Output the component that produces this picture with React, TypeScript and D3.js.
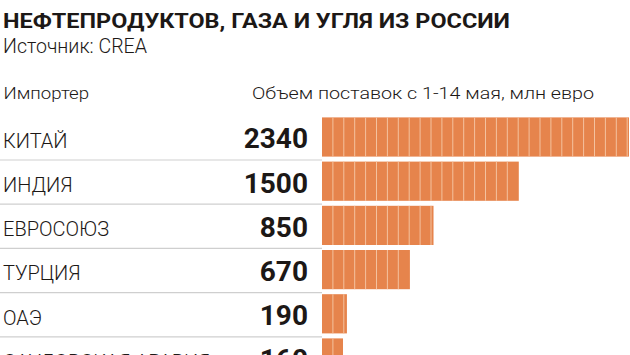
import React from "react";
import * as d3 from "d3";

const countries = ["КИТАЙ", "ИНДИЯ", "ЕВРОСОЮЗ", "ТУРЦИЯ", "ОАЭ", "САУДОВСКАЯ АРАВИЯ"];
const values = [2340, 1500, 850, 670, 190, 160];
const valueLabels = ["2340", "1500", "850", "670", "190", "160"];
const titleText = "НЕФТЕПРОДУКТОВ, ГАЗА И УГЛЯ ИЗ РОССИИ";
const sourceText = "Источник: CREA";
const colHeaderLeft = "Импортер";
const colHeaderRight = "Объем поставок с 1-14 мая, млн евро";

const W = 630;
const H = 355;
const BAR_COLOR = "#E6844C";
const STRIPE_COLOR = "#F4C29F";
const TEXT = "#1c1816";
const FONT = "Roboto, 'Liberation Sans', sans-serif";

export default function App() {
  const x = d3.scaleLinear().domain([0, 2340]).range([322, 629]);
  const y = d3
    .scaleBand<string>()
    .domain(countries)
    .range([115.3, 115.3 + countries.length * 44.2])
    .padding(0);
  const bw = y.bandwidth();
  const stripeStep = 10.9;

  return (
    <svg
      width={W}
      height={H}
      viewBox={`0 0 ${W} ${H}`}
      style={{ position: "fixed", left: 0, top: 0, background: "#fff" }}
    >
      <rect x={0} y={0} width={W} height={H} fill="#fff" />
      <text
        x={3}
        y={27.7}
        fontFamily={FONT}
        fontWeight={700}
        fontSize={21}
        fill={TEXT}
        textLength={507}
        lengthAdjust="spacingAndGlyphs"
      >
        {titleText}
      </text>
      <text
        x={3}
        y={53.3}
        fontFamily={FONT}
        fontWeight={300}
        fontSize={19.5}
        fill={TEXT}
        textLength={144}
        lengthAdjust="spacingAndGlyphs"
      >
        {sourceText}
      </text>
      <text
        x={3.5}
        y={99.3}
        fontFamily={FONT}
        fontWeight={300}
        fontSize={17}
        fill={TEXT}
        textLength={85.5}
        lengthAdjust="spacingAndGlyphs"
      >
        {colHeaderLeft}
      </text>
      <text
        x={252}
        y={99.3}
        fontFamily={FONT}
        fontWeight={300}
        fontSize={17}
        fill={TEXT}
        textLength={342}
        lengthAdjust="spacingAndGlyphs"
      >
        {colHeaderRight}
      </text>

      {countries.map((c, i) => {
        const top = y(c) as number;
        const x0 = x(0);
        const x1 = x(values[i]);
        const barTop = top + 2.1;
        const barH = bw - 5;
        const stripes = d3.range(x0 + stripeStep, x1 - 1, stripeStep);
        return (
          <g key={c}>
            <line
              x1={0}
              x2={x0}
              y1={top + bw + 0.5}
              y2={top + bw + 0.5}
              stroke="#cfcfcf"
              strokeWidth={1.2}
            />
            <text
              x={3}
              y={top + 32.4}
              fontFamily={FONT}
              fontWeight={300}
              fontSize={20}
              fill={TEXT}
            >
              {c}
            </text>
            <text
              x={308}
              y={top + 33}
              textAnchor="end"
              fontFamily={FONT}
              fontWeight={700}
              fontSize={28}
              fill={TEXT}
            >
              {valueLabels[i]}
            </text>
            <rect x={x0} y={barTop} width={x1 - x0} height={barH} fill={BAR_COLOR} />
            {stripes.map((sx, j) => (
              <line
                key={j}
                x1={sx}
                x2={sx}
                y1={barTop}
                y2={barTop + barH}
                stroke={STRIPE_COLOR}
                strokeWidth={1}
              />
            ))}
          </g>
        );
      })}
    </svg>
  );
}
